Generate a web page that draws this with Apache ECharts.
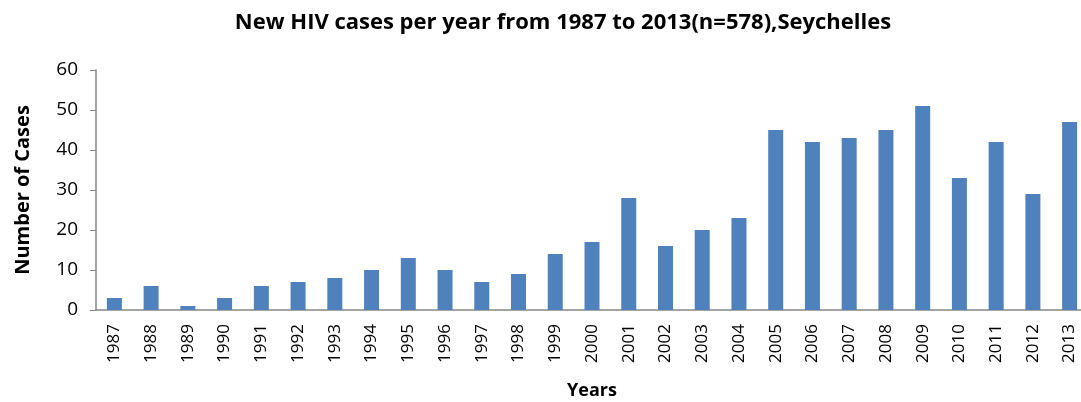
<!DOCTYPE html>
<html>
<head>
<meta charset="utf-8">
<script src="https://cdn.jsdelivr.net/npm/echarts@6/dist/echarts.min.js"></script>
<style>
  html, body { margin: 0; padding: 0; background: #fff; }
  #chart { width: 1081px; height: 402px; }
</style>
</head>
<body>
<div id="chart"></div>
<script>
// 年份与病例数
const years = ['1987', '1988', '1989', '1990', '1991', '1992', '1993', '1994', '1995',
    '1996', '1997', '1998', '1999', '2000', '2001', '2002', '2003', '2004', '2005',
    '2006', '2007', '2008', '2009', '2010', '2011', '2012', '2013'];
const cases = [3, 6, 1, 3, 6, 7, 8, 10, 13, 10, 7, 9, 14, 17, 28, 16, 20, 23, 45,
    42, 43, 45, 51, 33, 42, 29, 47];

const chart = echarts.init(document.getElementById('chart'));
const font = '"Open Sans", sans-serif';

chart.setOption({
    animation: false,
    title: {
        text: 'New HIV cases per year from 1987 to 2013(n=578),Seychelles',
        left: 558,
        textAlign: 'center',
        top: 7,
        textStyle: { fontFamily: font, fontSize: 22, fontWeight: 'bold', color: '#000' }
    },
    grid: { left: 96, right: -7, top: 70, bottom: 92, outerBoundsMode: 'none' },
    xAxis: {
        type: 'category',
        data: years,
        name: 'Years',
        nameLocation: 'middle',
        nameGap: 72,
        nameTextStyle: { fontFamily: font, fontSize: 18, fontWeight: 'bold', color: '#000' },
        axisLine: { lineStyle: { color: '#868686', width: 1.5 } },
        axisTick: { show: false },
        axisLabel: { rotate: 90, fontFamily: font, fontSize: 17, color: '#000', margin: 14 }
    },
    yAxis: {
        type: 'value',
        min: 0,
        max: 60,
        interval: 10,
        name: 'Number of Cases',
        nameLocation: 'middle',
        nameGap: 63,
        nameTextStyle: { fontFamily: font, fontSize: 20, fontWeight: 'bold', color: '#000' },
        axisLine: { show: true, lineStyle: { color: '#868686', width: 1.5 } },
        axisTick: { show: true, length: 6, lineStyle: { color: '#868686' } },
        splitLine: { show: false },
        axisLabel: { fontFamily: font, fontSize: 19, color: '#000', margin: 18 }
    },
    series: [{
        type: 'bar',
        data: cases,
        barWidth: 15,
        itemStyle: { color: '#4F81BD' }
    }]
});
</script>
</body>
</html>
